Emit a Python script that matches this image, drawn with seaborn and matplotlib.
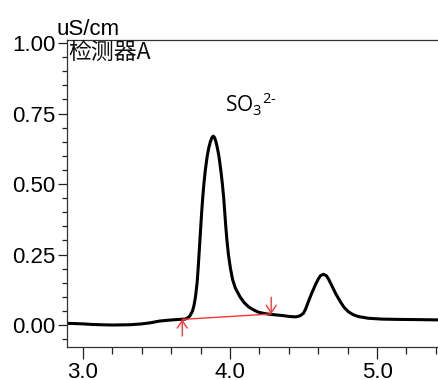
import matplotlib
matplotlib.use("Agg")
import matplotlib.pyplot as plt
from matplotlib.ticker import MultipleLocator, FormatStrFormatter
import seaborn as sns
import pandas as pd

# Chromatogram trace (retention time in min, conductivity in uS/cm)
time_min = [2.891, 2.950, 3.000, 3.060, 3.120, 3.200, 3.320, 3.400, 3.460,
            3.520, 3.580, 3.630, 3.660, 3.694, 3.705, 3.716, 3.726, 3.735,
            3.745, 3.755, 3.765, 3.776, 3.783, 3.789, 3.795, 3.801, 3.807,
            3.814, 3.822, 3.832, 3.845, 3.856, 3.866, 3.877, 3.886, 3.895,
            3.904, 3.913, 3.924, 3.937, 3.948, 3.957, 3.964, 3.971, 3.979,
            3.989, 4.003, 4.018, 4.037, 4.068, 4.095, 4.125, 4.155, 4.190,
            4.230, 4.270, 4.350, 4.410, 4.440, 4.460, 4.480, 4.500, 4.515,
            4.533, 4.555, 4.580, 4.600, 4.615, 4.635, 4.655, 4.670, 4.690,
            4.720, 4.750, 4.775, 4.805, 4.840, 4.873, 4.940, 5.030, 5.130,
            5.300, 5.435]
signal = [0.006, 0.005, 0.004, 0.002, 0.001, 0.000, 0.001, 0.004, 0.008,
          0.014, 0.017, 0.019, 0.020, 0.021, 0.023, 0.027, 0.032, 0.040,
          0.050, 0.070, 0.100, 0.150, 0.200, 0.250, 0.300, 0.350, 0.400,
          0.450, 0.500, 0.550, 0.600, 0.630, 0.650, 0.665, 0.670, 0.665,
          0.650, 0.630, 0.600, 0.550, 0.500, 0.450, 0.400, 0.350, 0.300,
          0.250, 0.200, 0.160, 0.130, 0.100, 0.080, 0.065, 0.055, 0.046,
          0.041, 0.038, 0.034, 0.030, 0.029, 0.030, 0.034, 0.042, 0.058,
          0.083, 0.112, 0.142, 0.163, 0.175, 0.180, 0.175, 0.163, 0.142,
          0.110, 0.083, 0.063, 0.047, 0.036, 0.030, 0.024, 0.021, 0.020,
          0.019, 0.018]

# Integration baseline for the SO3 2- peak
base_x = [3.675, 4.280]
base_y = [0.020, 0.039]

peak_label = r"SO$_3$$^{2\text{-}}$"
peak_label_pos = (3.966, 0.754)
detector_label = "检测器A"
unit_label = "uS/cm"

sns.set_theme(style="ticks")
plt.rcParams["font.family"] = ["Liberation Sans", "Noto Sans CJK SC", "DejaVu Sans"]
plt.rcParams["mathtext.fontset"] = "custom"
plt.rcParams["mathtext.rm"] = "Open Sans"
plt.rcParams["mathtext.sf"] = "Open Sans"
plt.rcParams["mathtext.it"] = "Open Sans"

fig = plt.figure(figsize=(4.39, 3.80), dpi=100)
ax = fig.add_axes([67 / 439, 33 / 380, 374 / 439, 307 / 380])

df = pd.DataFrame({"t": time_min, "s": signal})
sns.lineplot(data=df, x="t", y="s", ax=ax, sort=False, estimator=None,
             color="black", linewidth=2.2, solid_capstyle="round",
             solid_joinstyle="round")

red = "#ff3535"
ax.plot(base_x, base_y, color=red, linewidth=1.0)
ax.annotate("", xy=(base_x[0], base_y[0]), xytext=(0, -12),
            textcoords="offset points",
            arrowprops=dict(arrowstyle="->,head_length=0.45,head_width=0.3",
                            color=red, lw=1.0, shrinkA=0, shrinkB=0))
ax.annotate("", xy=(base_x[1], base_y[1]), xytext=(0, 12),
            textcoords="offset points",
            arrowprops=dict(arrowstyle="->,head_length=0.45,head_width=0.3",
                            color=red, lw=1.0, shrinkA=0, shrinkB=0))

ax.set_xlim(2.891, 5.435)
ax.set_ylim(-0.078, 1.011)
ax.set_xlabel("")
ax.set_ylabel("")

ax.xaxis.set_major_locator(MultipleLocator(1.0))
ax.xaxis.set_minor_locator(MultipleLocator(0.2))
ax.yaxis.set_major_locator(MultipleLocator(0.25))
ax.yaxis.set_minor_locator(MultipleLocator(0.05))
ax.xaxis.set_major_formatter(FormatStrFormatter("%.1f"))
ax.yaxis.set_major_formatter(FormatStrFormatter("%.2f"))

ax.tick_params(axis="x", which="major", length=8.5, width=0.9, pad=2,
               labelsize=16, colors="#222222", labelcolor="black")
ax.tick_params(axis="x", which="minor", length=5, width=0.9, colors="#222222")
ax.tick_params(axis="y", which="major", length=6.5, width=0.9, pad=2,
               labelsize=16, colors="#222222", labelcolor="black")
ax.tick_params(axis="y", which="minor", length=3.6, width=0.9, colors="#222222")

for side in ["left", "top", "bottom", "right"]:
    ax.spines[side].set_visible(True)
    ax.spines[side].set_linewidth(0.9)
    ax.spines[side].set_color("#333333")

ax.text(-0.027, 1.016, unit_label, transform=ax.transAxes, ha="left",
        va="baseline", fontsize=16, color="black", clip_on=False)
ax.text(0.004, 0.997, detector_label, transform=ax.transAxes, ha="left",
        va="top", fontsize=16.5, color="#111111",
        family=["Noto Sans CJK SC", "Liberation Sans"], fontweight="light")
ax.text(peak_label_pos[0], peak_label_pos[1], peak_label, ha="left",
        va="baseline", fontsize=15, color="black", family="Open Sans")

fig.savefig("out.png", dpi=100)
